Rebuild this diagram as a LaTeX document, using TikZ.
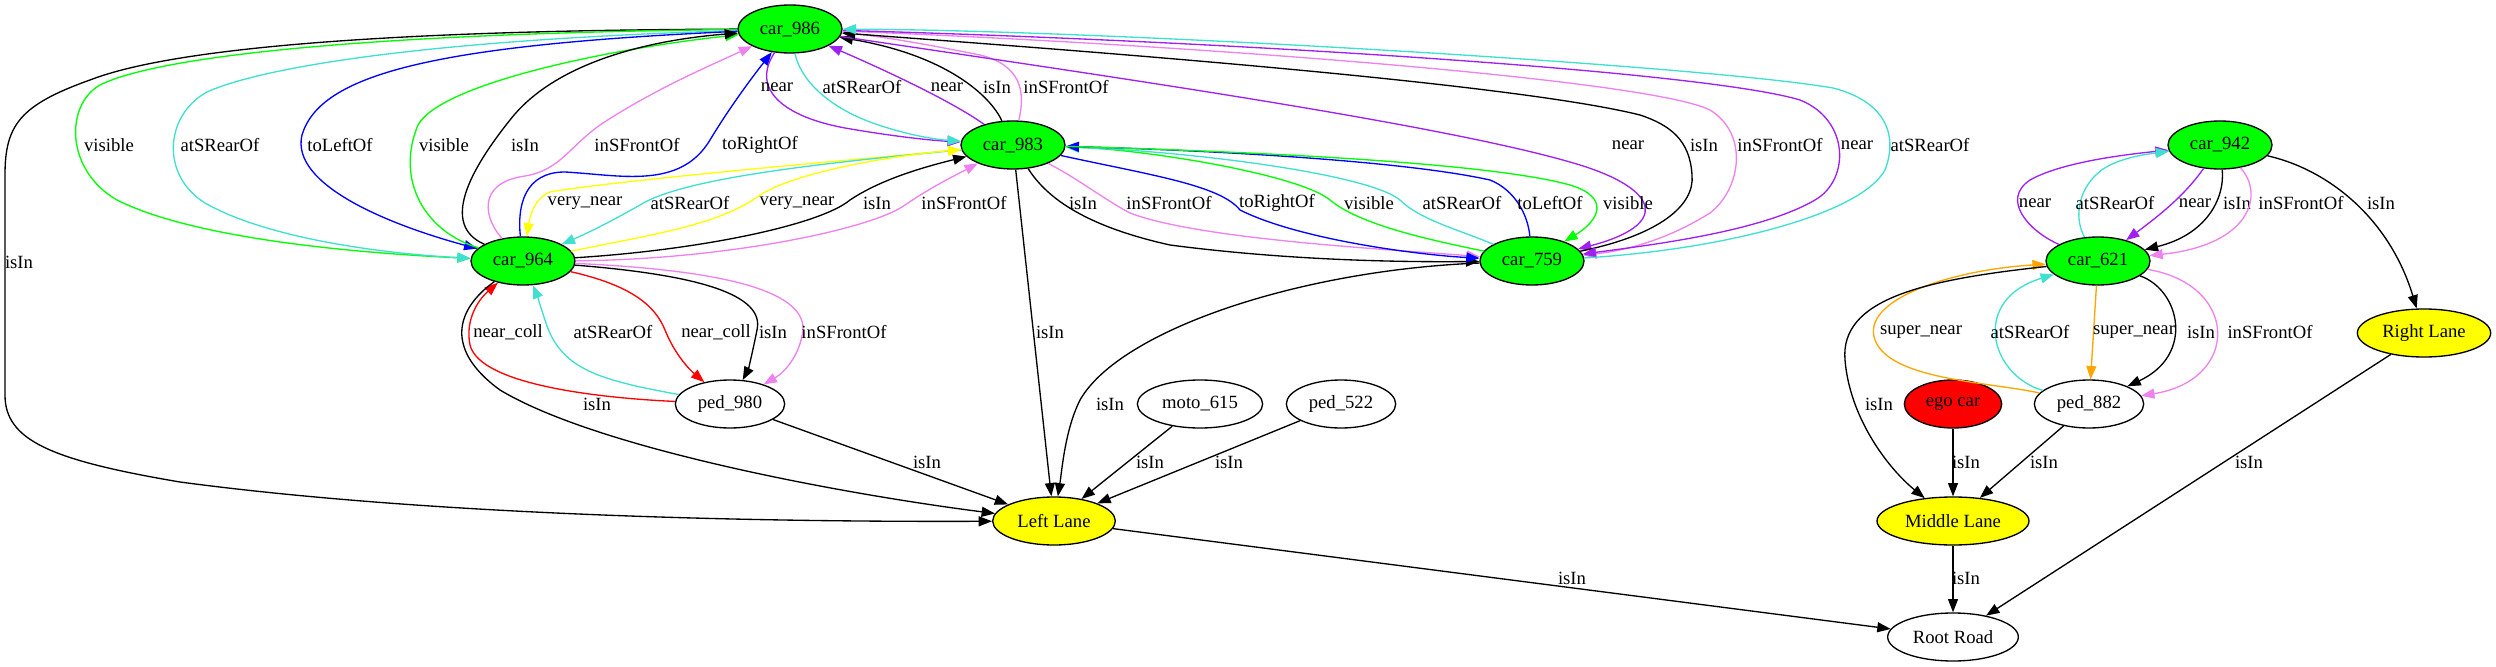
\documentclass[tikz,border=0pt]{standalone}
\usepackage{fontspec}
\setmainfont{Liberation Serif}
\usetikzlibrary{arrows.meta,shapes.geometric}

\definecolor{gvgreen}{HTML}{00FF00}
\definecolor{gvturq}{HTML}{40E0D0}
\definecolor{gvblue}{HTML}{0000FF}
\definecolor{gvviolet}{HTML}{EE82EE}
\definecolor{gvpurple}{HTML}{A020F0}
\definecolor{gvyellow}{HTML}{FFFF00}
\definecolor{gvred}{HTML}{FF0000}
\definecolor{gvorange}{HTML}{FFA500}

\begin{document}
\begin{tikzpicture}[
  x=0.75pt, y=-0.75pt,
  >={Triangle[length=10pt,width=7.5pt]},
  obj/.style={ellipse,draw,line width=1pt,inner sep=0pt,minimum height=36pt,
              font=\fontsize{14}{16}\selectfont},
  car/.style={obj,fill=gvgreen,minimum width=78pt},
  agent/.style={obj,minimum width=82pt},
  lane/.style={obj,fill=gvyellow},
  rel/.style={->,line width=1pt},
  lbl/.style={text=black,inner sep=0pt,font=\fontsize{14}{16}\selectfont}
]
  \useasboundingbox (0,0) rectangle (2496,667);

  % cars
  \node[car] (c986) at (790,29)   {car\_986};
  \node[car] (c983) at (1013,145) {car\_983};
  \node[car] (c964) at (523,261)  {car\_964};
  \node[car] (c759) at (1532,261) {car\_759};
  \node[car] (c942) at (2220,145) {car\_942};
  \node[car] (c621) at (2098,261) {car\_621};
  % other agents
  \node[agent] (p980) at (730,404)  {ped\_980};
  \node[agent,minimum width=94pt] (m615) at (1200,404) {moto\_615};
  \node[agent] (p522) at (1341,404) {ped\_522};
  \node[obj,fill=gvred,minimum width=73pt] (ego) at (1953,404) {ego car};
  \node[agent] (p882) at (2089,404) {ped\_882};
  % lanes and road
  \node[lane,minimum width=92pt]  (llane) at (1054,521) {Left Lane};
  \node[lane,minimum width=114pt] (mlane) at (1953,521) {Middle Lane};
  \node[lane,minimum width=100pt] (rlane) at (2424,333) {Right Lane};
  \node[obj,minimum width=98pt]   (road)  at (1953,637) {Root Road};

  % car_986 <-> car_964
  \draw[rel] (c986) .. controls (420,30) and (180,45) .. (90,80) .. controls (20,105) and (5,125) .. (5,175)
    -- (5,395) .. controls (5,440) and (50,460) .. (180,482) .. controls (450,518) and (800,522) .. (llane)
    node[lbl] at (19,262) {isIn};
  \draw[rel,gvgreen] (c986) .. controls (380,33) and (160,55) .. (100,85) .. controls (65,105) and (65,170) .. (117,200)
    .. controls (200,242) and (380,254) .. (c964) node[lbl] at (109,145) {visible};
  \draw[rel,gvturq] (c986) .. controls (420,40) and (260,68) .. (207,92) .. controls (165,115) and (160,175) .. (205,203)
    .. controls (270,240) and (390,254) .. (c964) node[lbl] at (220,145) {atSRearOf};
  \draw[rel,gvblue] (c986) .. controls (430,45) and (320,75) .. (302,135) .. controls (290,185) and (390,225) .. (c964)
    node[lbl] at (340,145) {toLeftOf};
  \draw[rel,gvgreen] (c964) .. controls (425,232) and (395,180) .. (418,125) .. controls (440,85) and (600,50) .. (c986)
    node[lbl] at (444,145) {visible};
  \draw[rel] (c964) .. controls (440,225) and (470,170) .. (510,120) .. controls (555,62) and (650,40) .. (c986)
    node[lbl] at (525,145) {isIn};
  \draw[rel,gvviolet] (c964) .. controls (485,220) and (475,183) .. (525,176) .. controls (560,170) and (568,148) .. (600,125)
    .. controls (650,92) and (700,70) .. (c986) node[lbl] at (637,145) {inSFrontOf};
  \draw[rel,gvblue] (c964) .. controls (517,205) and (525,172) .. (565,172) .. controls (620,175) and (680,190) .. (710,140)
    .. controls (728,110) and (750,80) .. (c986) node[lbl] at (760,145) {toRightOf};

  % car_986 <-> car_983
  \draw[rel,gvpurple] (c986) .. controls (750,90) and (785,117) .. (845,128) .. controls (885,135) and (925,140) .. (c983)
    node[lbl] at (777,87) {near};
  \draw[rel,gvturq] (c986) .. controls (800,78) and (825,105) .. (870,122) .. controls (900,133) and (930,139) .. (c983)
    node[lbl] at (862,87) {atSRearOf};
  \draw[rel,gvpurple] (c983) .. controls (950,100) and (880,68) .. (c986) node[lbl] at (947,87) {near};
  \draw[rel] (c983) .. controls (990,95) and (945,55) .. (c986) node[lbl] at (997,87) {isIn};
  \draw[rel,gvviolet] (c983) .. controls (1026,90) and (1020,65) .. (980,55) .. controls (930,45) and (880,36) .. (c986)
    node[lbl] at (1066,87) {inSFrontOf};

  % car_986 <-> car_759
  \draw[rel,gvpurple] (c986) .. controls (1100,75) and (1450,125) .. (1580,165) .. controls (1660,190) and (1670,225) .. (c759)
    node[lbl] at (1628,145) {near};
  \draw[rel] (c759) .. controls (1660,235) and (1695,205) .. (1692,175) .. controls (1690,140) and (1670,125) .. (1640,115)
    .. controls (1500,80) and (1000,45) .. (c986) node[lbl] at (1704,145) {isIn};
  \draw[rel,gvviolet] (c986) .. controls (1200,45) and (1650,80) .. (1710,110) .. controls (1750,135) and (1740,190) .. (1710,213)
    .. controls (1670,238) and (1630,250) .. (c759) node[lbl] at (1780,145) {inSFrontOf};
  \draw[rel,gvpurple] (c986) .. controls (1200,40) and (1700,70) .. (1800,100) .. controls (1850,120) and (1850,180) .. (1815,200)
    .. controls (1760,232) and (1650,245) .. (c759) node[lbl] at (1857,145) {near};
  \draw[rel,gvturq] (c759) .. controls (1720,250) and (1860,215) .. (1885,170) .. controls (1900,130) and (1880,100) .. (1833,88)
    .. controls (1700,65) and (1100,30) .. (c986) node[lbl] at (1930,145) {atSRearOf};

  % car_964 <-> car_983
  \draw[rel,gvyellow] (c983) .. controls (850,160) and (620,180) .. (550,192) .. controls (535,198) and (530,215) .. (c964)
    node[lbl] at (585,203) {very\_near};
  \draw[rel,gvturq] (c983) .. controls (800,165) and (680,180) .. (640,205) .. controls (610,222) and (590,232) .. (c964)
    node[lbl] at (690,203) {atSRearOf};
  \draw[rel,gvyellow] (c964) .. controls (650,235) and (720,225) .. (760,195) .. controls (800,170) and (900,155) .. (c983)
    node[lbl] at (797,203) {very\_near};
  \draw[rel] (c964) .. controls (700,250) and (820,225) .. (850,200) .. controls (880,180) and (920,168) .. (c983)
    node[lbl] at (877,203) {isIn};
  \draw[rel,gvviolet] (c964) .. controls (720,260) and (870,230) .. (905,205) .. controls (930,188) and (950,178) .. (c983)
    node[lbl] at (964,203) {inSFrontOf};

  % car_964 <-> ped_980
  \draw[rel,gvred] (p980) .. controls (600,398) and (480,385) .. (470,345) .. controls (465,320) and (478,300) .. (c964)
    node[lbl] at (508,332) {near\_coll};
  \draw[rel,gvturq] (p980) .. controls (600,380) and (560,370) .. (545,320) .. controls (540,305) and (537,295) .. (c964)
    node[lbl] at (613,332) {atSRearOf};
  \draw[rel,gvred] (c964) .. controls (630,285) and (655,305) .. (665,330) .. controls (675,355) and (690,370) .. (p980)
    node[lbl] at (716,332) {near\_coll};
  \draw[rel] (c964) .. controls (700,275) and (765,295) .. (757,330) .. controls (752,355) and (748,370) .. (p980)
    node[lbl] at (773,332) {isIn};
  \draw[rel,gvviolet] (c964) .. controls (720,270) and (805,290) .. (803,330) .. controls (800,355) and (785,372) .. (p980)
    node[lbl] at (844,332) {inSFrontOf};

  % into Left Lane
  \draw[rel] (c964) .. controls (455,310) and (445,350) .. (500,390) .. controls (600,450) and (850,495) .. (llane)
    node[lbl] at (597,404) {isIn};
  \draw[rel] (p980) -- (llane) node[lbl] at (927,462) {isIn};
  \draw[rel] (c983) -- (llane) node[lbl] at (1050,332) {isIn};
  \draw[rel] (c759) .. controls (1300,270) and (1120,330) .. (1080,400) .. controls (1065,430) and (1062,470) .. (llane)
    node[lbl] at (1110,404) {isIn};
  \draw[rel] (m615) -- (llane) node[lbl] at (1150,462) {isIn};
  \draw[rel] (p522) -- (llane) node[lbl] at (1229,462) {isIn};
  \draw[rel] (llane) -- (road) node[lbl] at (1572,578) {isIn};

  % car_983 <-> car_759
  \draw[rel] (c983) .. controls (1045,195) and (1080,225) .. (1170,245) .. controls (1300,262) and (1420,262) .. (c759)
    node[lbl] at (1083,203) {isIn};
  \draw[rel,gvviolet] (c983) .. controls (1080,180) and (1105,200) .. (1130,213) .. controls (1200,240) and (1400,250) .. (c759)
    node[lbl] at (1169,203) {inSFrontOf};
  \draw[rel,gvblue] (c983) .. controls (1150,175) and (1220,185) .. (1240,210) .. controls (1300,240) and (1420,255) .. (c759)
    node[lbl] at (1277,203) {toRightOf};
  \draw[rel,gvgreen] (c759) .. controls (1430,240) and (1360,225) .. (1330,200) .. controls (1300,175) and (1150,150) .. (c983)
    node[lbl] at (1369,203) {visible};
  \draw[rel,gvturq] (c759) .. controls (1460,230) and (1420,220) .. (1400,200) .. controls (1370,175) and (1200,152) .. (c983)
    node[lbl] at (1462,203) {atSRearOf};
  \draw[rel,gvblue] (c759) .. controls (1528,215) and (1515,190) .. (1490,180) .. controls (1400,160) and (1200,150) .. (c983)
    node[lbl] at (1550,203) {toLeftOf};
  \draw[rel,gvgreen] (c983) .. controls (1200,150) and (1480,160) .. (1570,185) .. controls (1610,197) and (1600,220) .. (c759)
    node[lbl] at (1628,203) {visible};

  % car_942 <-> car_621
  \draw[rel,gvpurple] (c621) .. controls (2030,232) and (2000,200) .. (2030,180) .. controls (2060,163) and (2120,155) .. (c942)
    node[lbl] at (2035,203) {near};
  \draw[rel,gvturq] (c621) .. controls (2072,215) and (2080,180) .. (2110,165) .. controls (2125,158) and (2140,155) .. (c942)
    node[lbl] at (2115,203) {atSRearOf};
  \draw[rel,gvpurple] (c942) .. controls (2185,195) and (2160,215) .. (c621) node[lbl] at (2195,203) {near};
  \draw[rel] (c942) .. controls (2225,200) and (2205,235) .. (c621) node[lbl] at (2237,203) {isIn};
  \draw[rel,gvviolet] (c942) .. controls (2265,195) and (2250,245) .. (c621) node[lbl] at (2301,203) {inSFrontOf};
  \draw[rel] (c942) .. controls (2330,170) and (2390,220) .. (rlane) node[lbl] at (2381,203) {isIn};

  % car_621 <-> ped_882
  \draw[rel,gvorange] (p882) .. controls (1990,382) and (1890,380) .. (1875,340) .. controls (1860,300) and (1950,270) .. (c621)
    node[lbl] at (1921,332) {super\_near};
  \draw[rel,gvturq] (p882) .. controls (1990,375) and (1970,300) .. (c621) node[lbl] at (2030,332) {atSRearOf};
  \draw[rel,gvorange] (c621) -- (p882) node[lbl] at (2134,332) {super\_near};
  \draw[rel] (c621) .. controls (2180,290) and (2195,355) .. (p882) node[lbl] at (2201,332) {isIn};
  \draw[rel,gvviolet] (c621) .. controls (2240,285) and (2240,380) .. (p882) node[lbl] at (2270,332) {inSFrontOf};

  % into Middle Lane, Right Lane and Root Road
  \draw[rel] (c621) .. controls (1920,280) and (1840,300) .. (1845,360) .. controls (1850,420) and (1890,470) .. (mlane)
    node[lbl] at (1879,404) {isIn};
  \draw[rel] (ego) -- (mlane) node[lbl] at (1966,462) {isIn};
  \draw[rel] (p882) -- (mlane) node[lbl] at (2044,462) {isIn};
  \draw[rel] (mlane) -- (road) node[lbl] at (1966,578) {isIn};
  \draw[rel] (rlane) -- (road) node[lbl] at (2249,462) {isIn};
\end{tikzpicture}
\end{document}
